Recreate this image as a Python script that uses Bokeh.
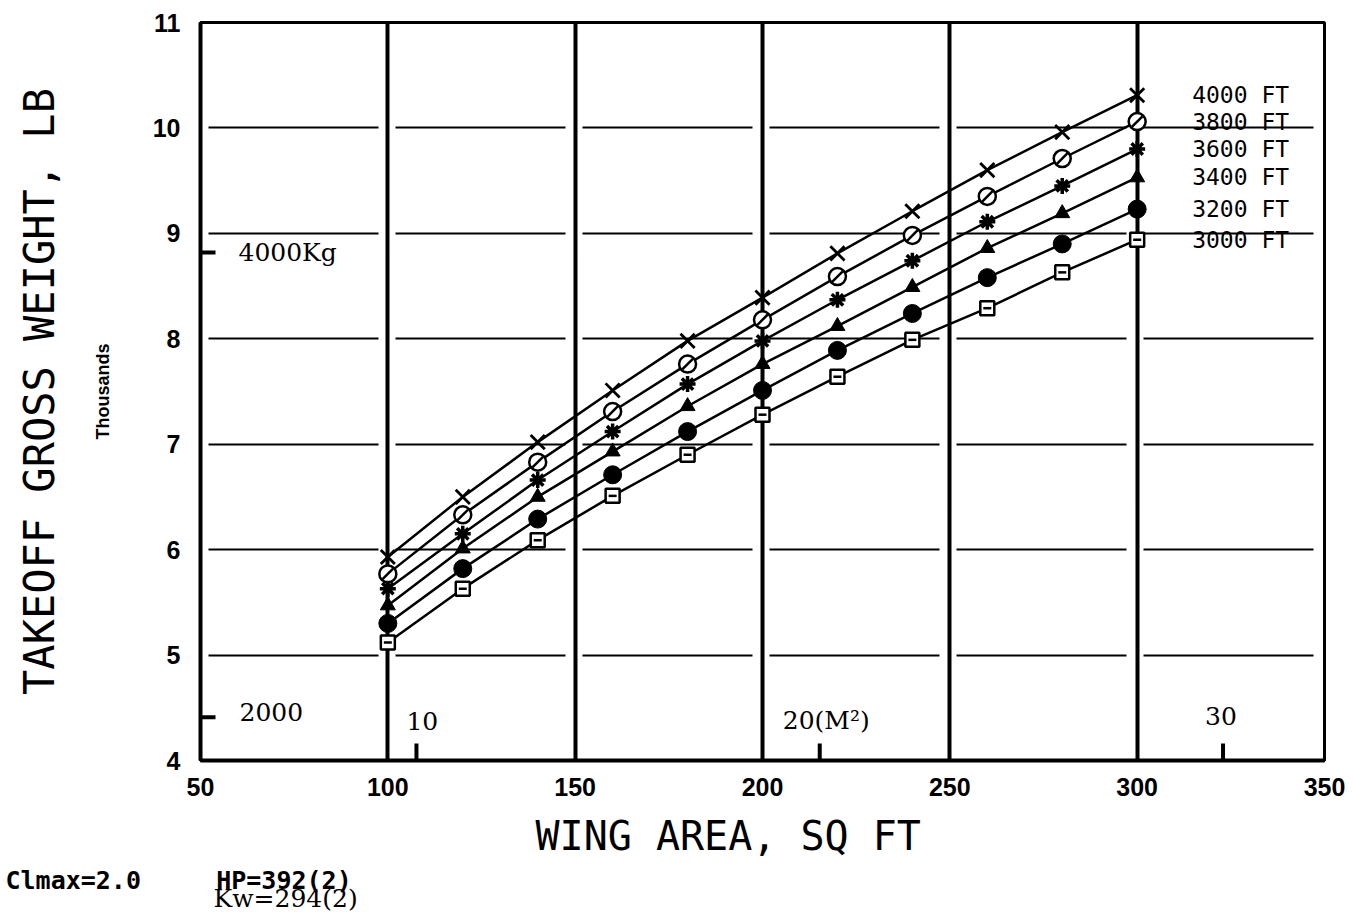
import math
from bokeh.plotting import figure
from bokeh.models import Range1d, FixedTicker, Label, ColumnDataSource, Title, LinearAxis
from bokeh.core.properties import value
from bokeh.embed import file_html
from bokeh.resources import INLINE

# ---------------- data ----------------
wing_area = [100, 120, 140, 160, 180, 200, 220, 240, 260, 280, 300]
w_4000 = [5.93, 6.50, 7.02, 7.51, 7.98, 8.39, 8.81, 9.21, 9.60, 9.96, 10.31]
w_3800 = [5.77, 6.33, 6.83, 7.31, 7.76, 8.18, 8.59, 8.98, 9.35, 9.71, 10.06]
w_3600 = [5.63, 6.15, 6.66, 7.12, 7.57, 7.98, 8.37, 8.74, 9.11, 9.45, 9.80]
w_3400 = [5.47, 6.01, 6.50, 6.93, 7.36, 7.76, 8.12, 8.49, 8.86, 9.19, 9.53]
w_3200 = [5.30, 5.82, 6.29, 6.71, 7.12, 7.51, 7.89, 8.24, 8.58, 8.90, 9.23]
w_3000 = [5.12, 5.63, 6.09, 6.51, 6.90, 7.28, 7.64, 7.99, 8.29, 8.63, 8.94]
series_labels = ["4000 FT", "3800 FT", "3600 FT", "3400 FT", "3200 FT", "3000 FT"]

x_ticks = [50, 100, 150, 200, 250, 300, 350]
y_ticks = [4, 5, 6, 7, 8, 9, 10, 11]
kg_ticks = [2000, 4000]
kg_tick_labels = ["2000", "4000Kg"]
m2_ticks = [10, 20, 30]
m2_tick_labels = ["10", "20(M²)", "30"]
LB_PER_KG = 2.20462
SQFT_PER_M2 = 10.7639

# ---------------- figure ----------------
p = figure(width=1350, height=915,
           x_range=Range1d(50, 350), y_range=Range1d(4, 11),
           output_backend="svg", toolbar_location=None,
           min_border_left=200, min_border_right=26,
           min_border_top=22, min_border_bottom=155)
p.background_fill_color = "white"
p.border_fill_color = "white"
p.outline_line_color = "black"
p.outline_line_width = 3

p.xaxis.ticker = FixedTicker(ticks=x_ticks)
p.yaxis.ticker = FixedTicker(ticks=y_ticks)

for ax in (p.xaxis[0], p.yaxis[0]):
    ax.axis_line_width = 4
    ax.axis_line_color = "black"
    ax.major_tick_out = 0
    ax.major_tick_in = 0
    ax.minor_tick_out = 0
    ax.minor_tick_in = 0
    ax.major_label_text_font = "Liberation Sans"
    ax.major_label_text_font_style = "bold"
    ax.major_label_text_color = "black"
    ax.major_label_text_font_size = "25px"

p.xaxis.major_label_standoff = 17

p.yaxis.major_label_standoff = 20
p.yaxis.axis_label = "Thousands"
p.yaxis.axis_label_text_font = "Liberation Sans"
p.yaxis.axis_label_text_font_size = "18px"
p.yaxis.axis_label_text_font_style = "bold"
p.yaxis.axis_label_text_color = "black"
p.yaxis.axis_label_standoff = 37

# outer left axis carrying only the main weight title
title_axis = LinearAxis(ticker=FixedTicker(ticks=[]), axis_line_color=None,
                        major_tick_out=0, major_tick_in=0,
                        minor_tick_out=0, minor_tick_in=0,
                        major_label_standoff=0,
                        axis_label="TAKEOFF GROSS WEIGHT, LB",
                        axis_label_standoff=26,
                        axis_label_text_font="DejaVu Sans Mono",
                        axis_label_text_font_size="42px",
                        axis_label_text_font_style="normal",
                        axis_label_text_color="black")
p.add_layout(title_axis, "left")

p.xgrid.grid_line_color = "black"
p.xgrid.grid_line_width = 4
p.ygrid.grid_line_color = "black"
p.ygrid.grid_line_width = 2
p.ygrid.grid_line_dash = "170 17"
p.ygrid.grid_line_dash_offset = 179

# ---------------- secondary (metric) tick marks ----------------
kg_in_klb = [k * LB_PER_KG / 1000 for k in kg_ticks]
p.scatter(x=[x_ticks[0]] * len(kg_ticks), y=kg_in_klb, marker="dash",
          size=30, line_color="black", line_width=4)
m2_in_sqft = [m * SQFT_PER_M2 for m in m2_ticks]
p.scatter(x=m2_in_sqft, y=[y_ticks[0]] * len(m2_ticks), marker="dash",
          angle=math.pi / 2, size=34, line_color="black", line_width=4)

serif = "DejaVu Serif"
kg_x_offsets = [39, 38]
kg_y_offsets = [5, 0]
for yv, txt, xo, yo in zip(kg_in_klb, kg_tick_labels, kg_x_offsets, kg_y_offsets):
    p.add_layout(Label(x=x_ticks[0], y=yv, text=txt, x_offset=xo, y_offset=yo,
                       text_baseline="middle", text_align="left",
                       text_font=serif, text_font_size="25px",
                       text_color="black"))
m2_x_offsets = [-10, -37, -18]
m2_y_offsets = [40, 40, 45]
for xv, txt, xo, yo in zip(m2_in_sqft, m2_tick_labels, m2_x_offsets, m2_y_offsets):
    p.add_layout(Label(x=xv, y=y_ticks[0], text=txt, x_offset=xo, y_offset=yo,
                       text_baseline="middle", text_align="left",
                       text_font=serif, text_font_size="25px",
                       text_color="black"))

# ---------------- series ----------------
all_series = [w_4000, w_3800, w_3600, w_3400, w_3200, w_3000]
for ys in all_series:
    p.line(wing_area, ys, line_color="black", line_width=2.5)

# 4000 FT: x
p.scatter(wing_area, w_4000, marker="x", size=20, line_color="black", line_width=2.8)
# 3800 FT: slashed open circle
p.scatter(wing_area, w_3800, marker="circle", size=17, line_color="black",
          line_width=2.5, fill_color="white")
p.scatter(wing_area, w_3800, marker="dash", size=15, angle=math.pi / 4,
          line_color="black", line_width=2.5)
# 3600 FT: asterisk
p.scatter(wing_area, w_3600, marker="asterisk", size=16, line_color="black", line_width=3.5)
# 3400 FT: filled triangle
p.scatter(wing_area, w_3400, marker="triangle", size=15, line_color="black",
          fill_color="black", line_width=1)
# 3200 FT: filled circle
p.scatter(wing_area, w_3200, marker="circle", size=18, line_color="black",
          fill_color="black")
# 3000 FT: boxed square
p.scatter(wing_area, w_3000, marker="square", size=14, line_color="black",
          line_width=2.5, fill_color="white")
p.scatter(wing_area, w_3000, marker="dash", size=8, line_color="black", line_width=2.5)

# series labels at the end of each curve
end_src = ColumnDataSource(dict(x=[wing_area[-1]] * len(all_series),
                                y=[s[-1] for s in all_series],
                                t=series_labels))
p.text(x="x", y="y", text="t", source=end_src, x_offset=55,
       text_baseline="middle", text_align="left",
       text_font=value("DejaVu Sans Mono"), text_font_size="23px",
       text_color="black")

# ---------------- titles below (axis title and notes) ----------------
p.add_layout(Title(text="WING AREA, SQ FT", align="left", offset=335,
                   vertical_align="middle", standoff=27,
                   text_font="DejaVu Sans Mono", text_font_size="40px",
                   text_font_style="normal", text_color="black"), "below")
p.add_layout(Title(text="Clmax=2.0\u00a0\u00a0\u00a0\u00a0\u00a0HP=392(2)",
                   align="left", offset=-195, vertical_align="top", standoff=-16,
                   text_font="DejaVu Sans Mono", text_font_size="25px",
                   text_font_style="bold", text_color="black"), "below")
p.add_layout(Title(text="Kw=294(2)", align="left", offset=13,
                   vertical_align="top", standoff=-10,
                   text_font=serif, text_font_size="25px",
                   text_font_style="normal", text_color="black"), "below")

open("out.html", "w").write(file_html(p, INLINE))
